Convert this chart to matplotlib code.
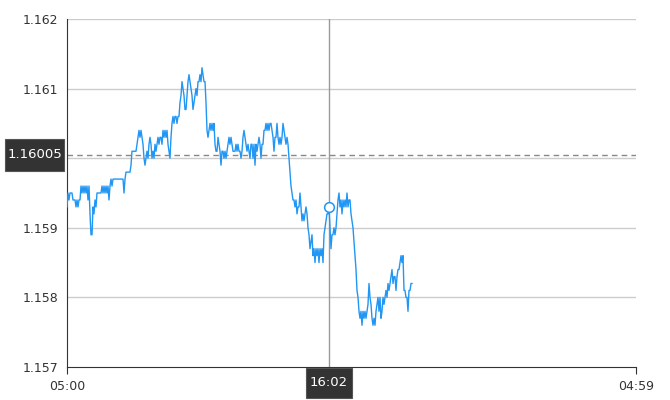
import matplotlib
matplotlib.use("Agg")
import matplotlib.pyplot as plt
from matplotlib.patches import Rectangle
from matplotlib.transforms import IdentityTransform
import numpy as np

# ---- data ----
start_label = "05:00"
end_label = "04:59"
total_minutes = 1439            # 05:00 -> 04:59 next day
sample_step = 1439 / 569        # minutes between samples
prices = [
    1.1593, 1.1595, 1.1594, 1.1595, 1.1595, 1.1595, 1.1594, 1.1594, 1.1594, 1.1593,
    1.1594, 1.1593, 1.1594, 1.1594, 1.1596, 1.1595, 1.1596, 1.1595, 1.1596, 1.1595,
    1.1596, 1.1594, 1.1596, 1.1592, 1.1589, 1.1589, 1.1593, 1.1592, 1.1594, 1.1593,
    1.1595, 1.1595, 1.1595, 1.1595, 1.1595, 1.1596, 1.1595, 1.1596, 1.1595, 1.1596,
    1.1595, 1.1596, 1.1594, 1.1596, 1.1597, 1.1596, 1.1597, 1.1597, 1.1597, 1.1597,
    1.1597, 1.1597, 1.1597, 1.1597, 1.1597, 1.1597, 1.1597, 1.1595, 1.1597, 1.1598,
    1.1598, 1.1598, 1.1598, 1.1598, 1.1599, 1.1601, 1.1601, 1.1601, 1.1601, 1.1601,
    1.1602, 1.1603, 1.1604, 1.1603, 1.1604, 1.1603, 1.1602, 1.1600, 1.1599, 1.1600,
    1.1601, 1.1600, 1.1602, 1.1603, 1.1602, 1.1600, 1.1601, 1.1600, 1.1602, 1.1601,
    1.1602, 1.1603, 1.1602, 1.1603, 1.1603, 1.1602, 1.1604, 1.1603, 1.1604, 1.1603,
    1.1604, 1.1602, 1.1601, 1.1600, 1.1603, 1.1605, 1.1606, 1.1605, 1.1606, 1.1606,
    1.1605, 1.1606, 1.1606, 1.1608, 1.1609, 1.1611, 1.1610, 1.1609, 1.1607, 1.1607,
    1.1609, 1.1611, 1.1612, 1.1611, 1.1610, 1.1609, 1.1607, 1.1608, 1.1609, 1.1610,
    1.1609, 1.1611, 1.1611, 1.1612, 1.1611, 1.1613, 1.1612, 1.1611, 1.1611, 1.1608,
    1.1604, 1.1603, 1.1604, 1.1605, 1.1604, 1.1605, 1.1604, 1.1605, 1.1602, 1.1601,
    1.1601, 1.1603, 1.1602, 1.1601, 1.1599, 1.1601, 1.1601, 1.1600, 1.1601, 1.1600,
    1.1601, 1.1602, 1.1603, 1.1602, 1.1603, 1.1602, 1.1601, 1.1601, 1.1601, 1.1602,
    1.1601, 1.1602, 1.1601, 1.1601, 1.1600, 1.1601, 1.1603, 1.1604, 1.1603, 1.1602,
    1.1601, 1.1602, 1.1601, 1.1600, 1.1602, 1.1602, 1.1600, 1.1602, 1.1599, 1.1602,
    1.1601, 1.1602, 1.1603, 1.1602, 1.1600, 1.1602, 1.1602, 1.1604, 1.1604, 1.1605,
    1.1604, 1.1605, 1.1604, 1.1605, 1.1605, 1.1604, 1.1603, 1.1601, 1.1603, 1.1603,
    1.1605, 1.1603, 1.1602, 1.1603, 1.1602, 1.1603, 1.1605, 1.1604, 1.1603, 1.1602,
    1.1603, 1.1602, 1.1600, 1.1598, 1.1596, 1.1595, 1.1594, 1.1594, 1.1593, 1.1594,
    1.1592, 1.1593, 1.1593, 1.1595, 1.1593, 1.1591, 1.1592, 1.1591, 1.1592, 1.1593,
    1.1592, 1.1590, 1.1589, 1.1587, 1.1588, 1.1589, 1.1586, 1.1587, 1.1585, 1.1587,
    1.1586, 1.1587, 1.1585, 1.1587, 1.1586, 1.1587, 1.1585, 1.1589, 1.1590, 1.1591,
    1.1592, 1.1592, 1.1593, 1.1590, 1.1587, 1.1589, 1.1589, 1.1590, 1.1589, 1.1590,
    1.1592, 1.1594, 1.1595, 1.1593, 1.1594, 1.1592, 1.1594, 1.1593, 1.1594, 1.1593,
    1.1595, 1.1593, 1.1594, 1.1594, 1.1592, 1.1591, 1.1590, 1.1588, 1.1586, 1.1584,
    1.1581, 1.1580, 1.1578, 1.1577, 1.1578, 1.1576, 1.1578, 1.1577, 1.1578, 1.1577,
    1.1578, 1.1579, 1.1582, 1.1580, 1.1579, 1.1577, 1.1576, 1.1577, 1.1576, 1.1578,
    1.1579, 1.1580, 1.1578, 1.1580, 1.1577, 1.1578, 1.1580, 1.1579, 1.1580, 1.1581,
    1.1580, 1.1582, 1.1581, 1.1582, 1.1583, 1.1584, 1.1582, 1.1583, 1.1583, 1.1581,
    1.1583, 1.1584, 1.1584, 1.1585, 1.1586, 1.1585, 1.1586, 1.1581, 1.1581, 1.1580,
    1.1580, 1.1578, 1.1581, 1.1581, 1.1582, 1.1582,
]
y_ticks = [1.157, 1.158, 1.159, 1.160, 1.161, 1.162]
cross_time_label = "16:02"
cross_time_min = 662            # minutes after 05:00
cross_price_label = "1.16005"
cross_price = 1.16005
marker_price = 1.1593

# ---- figure ----
W, H = 670, 400
fig = plt.figure(figsize=(W / 100, H / 100), dpi=100)
ax = fig.add_axes([67 / W, 33 / H, (636 - 67) / W, (367 - 19) / H])

times = np.arange(len(prices)) * sample_step
blue = "#2196f3"

ax.set_xlim(0, total_minutes)
ax.set_ylim(1.157, 1.162)

for v in y_ticks[1:]:
    ax.axhline(v, color="#cccccc", lw=1, zorder=1)

ax.plot(times, prices, color=blue, lw=1.0, zorder=3)

# crosshair
ax.axvline(cross_time_min, color="#999999", lw=1, zorder=2)
ax.axhline(cross_price, color="#888888", lw=1, ls=(0, (4, 3)), zorder=2)
ax.plot([cross_time_min], [marker_price], marker="o", ms=7, mfc="white",
        mec=blue, mew=1.1, zorder=4)

# spines / ticks
for s in ("top", "right"):
    ax.spines[s].set_visible(False)
ax.spines["left"].set_color("#333333")
ax.spines["bottom"].set_color("#333333")
ax.set_yticks(y_ticks)
# the 1.160 label is hidden behind the crosshair price box in the reference
ax.set_yticklabels(["" if abs(v - cross_price) < 0.0003 else f"{v:.3f}" for v in y_ticks])
ax.tick_params(axis="y", length=0, pad=6, labelsize=9, labelcolor="#333333")
ax.set_xticks([0, total_minutes])
ax.set_xticklabels([start_label, end_label])
ax.tick_params(axis="x", length=5, pad=4, labelsize=9, labelcolor="#333333",
               color="#333333")

# crosshair labels (pixel-space boxes)
ident = IdentityTransform()
_, ypx = ax.transData.transform((0, cross_price))
fig.patches.append(Rectangle((5, ypx - 16), 59, 32, transform=ident,
                             facecolor="#333333", edgecolor="#555555", lw=0.8, zorder=10))
fig.text(34.5, ypx, cross_price_label, transform=ident, color="white",
         fontsize=9.5, ha="center", va="center", zorder=11)

xpx, _ = ax.transData.transform((cross_time_min, 1.157))
ypx_b = H - 367
fig.patches.append(Rectangle((xpx - 23, ypx_b - 31), 46, 30, transform=ident,
                             facecolor="#333333", edgecolor="#555555", lw=0.8, zorder=10))
fig.text(xpx, ypx_b - 16, cross_time_label, transform=ident, color="white",
         fontsize=9.5, ha="center", va="center", zorder=11)

fig.savefig("out.png", dpi=100)
